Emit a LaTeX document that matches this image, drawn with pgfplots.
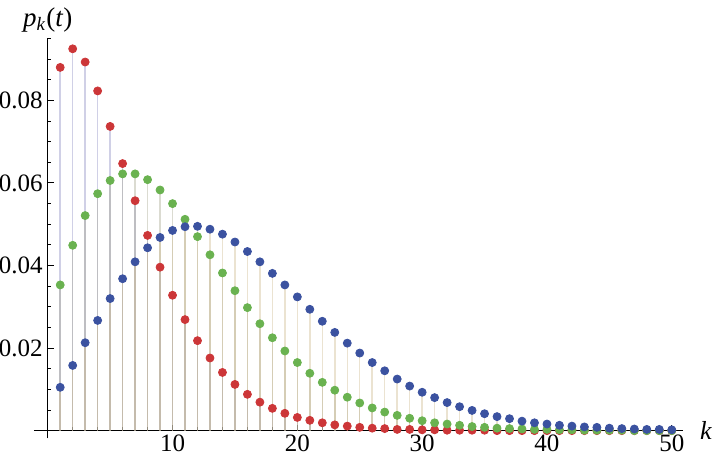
\documentclass[border=0pt]{standalone}
\usepackage{fontspec}
\setmainfont{Liberation Serif}
\usepackage{pgfplots}
\usepackage{pgfplotstable}
\pgfplotsset{compat=1.18}

\definecolor{redc}{RGB}{204,54,56}
\definecolor{greenc}{RGB}{106,178,80}
\definecolor{bluec}{RGB}{59,82,160}
\definecolor{redstem}{RGB}{150,150,200}
\definecolor{greenstem}{RGB}{165,165,140}
\definecolor{bluestem}{RGB}{205,185,140}

% p_k(t) for three values of t
\pgfplotstableread{
k p
1 0.0880
2 0.0925
3 0.0893
4 0.0823
5 0.0737
6 0.0647
7 0.0557
8 0.0473
9 0.0396
10 0.0328
11 0.0269
12 0.0218
13 0.0176
14 0.0141
15 0.0112
16 0.0088
17 0.0069
18 0.0054
19 0.0042
20 0.0032
21 0.0025
22 0.0019
23 0.0014
24 0.0011
25 0.0008
26 0.0006
27 0.0005
28 0.0003
29 0.0003
30 0.0002
31 0.0002
32 0.0001
33 0.0001
34 0.0001
35 0.0001
36 0.0000
37 0.0000
38 0.0000
39 0.0000
40 0.0000
41 0.0000
42 0.0000
43 0.0000
44 0.0000
45 0.0000
46 0.0000
47 0.0000
48 0.0000
49 0.0000
50 0.0000
}\redtab

\pgfplotstableread{
k p
1 0.0353
2 0.0449
3 0.0521
4 0.0574
5 0.0606
6 0.0622
7 0.0622
8 0.0608
9 0.0583
10 0.0550
11 0.0512
12 0.0470
13 0.0426
14 0.0382
15 0.0339
16 0.0298
17 0.0259
18 0.0225
19 0.0193
20 0.0165
21 0.0139
22 0.0117
23 0.0098
24 0.0081
25 0.0067
26 0.0055
27 0.0045
28 0.0037
29 0.0030
30 0.0024
31 0.0019
32 0.0016
33 0.0013
34 0.0010
35 0.0008
36 0.0006
37 0.0005
38 0.0004
39 0.0003
40 0.0003
41 0.0002
42 0.0002
43 0.0001
44 0.0001
45 0.0001
46 0.0001
47 0.0000
48 0.0000
49 0.0000
50 0.0000
}\greentab

\pgfplotstableread{
k p
1 0.0105
2 0.0158
3 0.0213
4 0.0267
5 0.0320
6 0.0368
7 0.0409
8 0.0443
9 0.0468
10 0.0485
11 0.0494
12 0.0495
13 0.0488
14 0.0476
15 0.0457
16 0.0434
17 0.0409
18 0.0381
19 0.0353
20 0.0324
21 0.0294
22 0.0265
23 0.0238
24 0.0212
25 0.0188
26 0.0165
27 0.0145
28 0.0125
29 0.0108
30 0.0093
31 0.0080
32 0.0068
33 0.0058
34 0.0049
35 0.0041
36 0.0034
37 0.0029
38 0.0023
39 0.0019
40 0.0016
41 0.0013
42 0.0011
43 0.0009
44 0.0008
45 0.0006
46 0.0005
47 0.0004
48 0.0003
49 0.0003
50 0.0002
}\bluetab

\begin{document}
\begin{tikzpicture}
  \begin{axis}[
      name=ax,
      scale only axis,
      width=324.5pt, height=200pt,
      xmin=-1.1, xmax=50.9,
      ymin=-0.0019, ymax=0.095,
      axis lines=middle,
      axis line style={-, line width=0.6pt},
      clip=false,
      xtick={10,20,30,40,50},
      minor xtick={2,4,...,50},
      ytick={0.02,0.04,0.06,0.08},
      minor ytick={0.005,0.01,0.015,0.025,0.03,0.035,0.045,0.05,0.055,0.065,0.07,0.075,0.085,0.09,0.095},
      tick align=inside,
      major tick length=3pt,
      minor tick length=1.8pt,
      tick style={black, line width=0.5pt},
      scaled y ticks=false,
      yticklabel style={/pgf/number format/fixed,
        /pgf/number format/precision=2,
        /pgf/number format/fixed zerofill, xshift=1pt},
      xticklabel style={inner sep=2pt},
      ticklabel style={font=\rmfamily\fontsize{12.5}{14}\selectfont},
      /pgf/number format/assume math mode=true,
      xlabel={\textit{k}},
      ylabel={\textit{p}\textsubscript{\textit{k}}(\textit{t})},
      every axis x label/.style={at={(axis cs:50.9,0)}, anchor=west,
        xshift=5pt, font=\fontsize{13}{15}\selectfont},
      every axis y label/.style={at={(axis cs:0,0.095)}, anchor=south,
        inner sep=0pt, yshift=3pt, font=\fontsize{13.5}{15}\selectfont},
    ]
    % stems
    \addplot [ycomb, draw=redstem, draw opacity=0.45, line width=0.75pt, no markers] table [x=k, y=p] {\redtab};
    \addplot [ycomb, draw=greenstem, draw opacity=0.4, line width=0.75pt, no markers] table [x=k, y=p] {\greentab};
    \addplot [ycomb, draw=bluestem, draw opacity=0.4, line width=0.75pt, no markers] table [x=k, y=p] {\bluetab};
    % points
    \addplot [only marks, mark=*, mark size=2pt, color=redc] table [x=k, y=p] {\redtab};
    \addplot [only marks, mark=*, mark size=2pt, color=greenc] table [x=k, y=p] {\greentab};
    \addplot [only marks, mark=*, mark size=2pt, color=bluec] table [x=k, y=p] {\bluetab};
  \end{axis}
  \pgfresetboundingbox
  \path ([shift={(-17pt,-11.5pt)}]ax.south west) rectangle ([shift={(15.5pt,19.25pt)}]ax.north east);
\end{tikzpicture}
\end{document}
